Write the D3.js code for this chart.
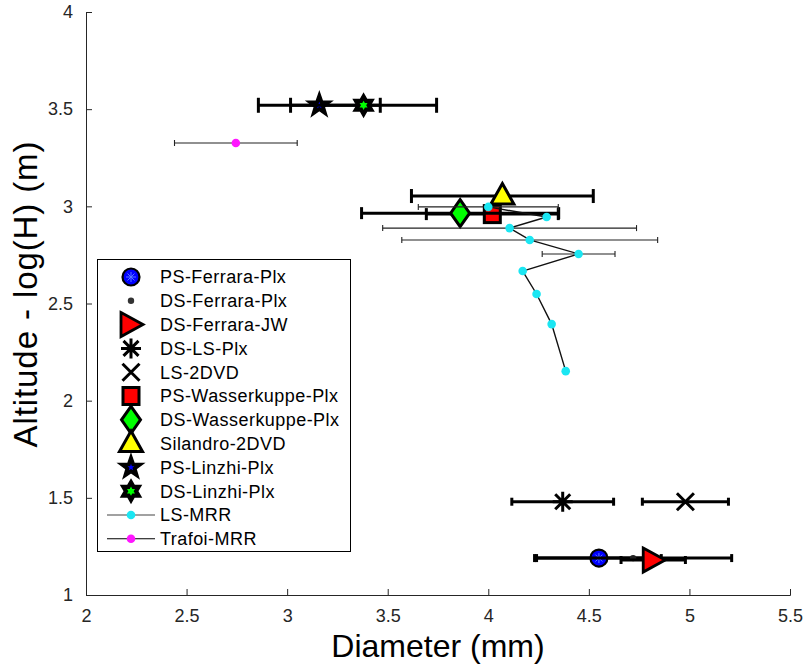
<!DOCTYPE html>
<html>
<head>
<meta charset="utf-8">
<script src="https://cdn.jsdelivr.net/npm/d3@7"></script>
<style>
  html, body { margin: 0; padding: 0; background: #fff; }
  svg { display: block; font-family: "Liberation Sans", Arial, Helvetica, sans-serif; }
</style>
</head>
<body>
<svg id="chart" width="808" height="665"></svg>
<script>
// ---------------- DATA ----------------
const legendNames = [
  "PS-Ferrara-Plx", "DS-Ferrara-Plx", "DS-Ferrara-JW", "DS-LS-Plx", "LS-2DVD",
  "PS-Wasserkuppe-Plx", "DS-Wasserkuppe-Plx", "Silandro-2DVD", "PS-Linzhi-Plx",
  "DS-Linzhi-Plx", "LS-MRR", "Trafoi-MRR"
];
// single-point series (first ten legend entries): diameter, altitude, diameter error
const stationDiameter = [4.55, 4.72, 4.82, 4.37, 4.98, 4.02, 3.86, 4.07, 3.16, 3.38];
const stationAltitude = [1.19, 1.19, 1.18, 1.48, 1.48, 2.96, 2.965, 3.053, 3.52, 3.52];
const stationError    = [0.31, 0.49, 0.16, 0.253, 0.214, 0.328, 0.49, 0.452, 0.303, 0.363];

// LS-MRR profile
const lsMrrDiameter = [4.00, 4.29, 4.106, 4.206, 4.449, 4.171, 4.24, 4.315, 4.385];
const lsMrrAltitude = [2.997, 2.945, 2.888, 2.827, 2.755, 2.667, 2.549, 2.394, 2.152];
const lsMrrError    = [0.348, 0, 0.631, 0.636, 0.181, 0, 0, 0, 0];

// Trafoi-MRR
const trafoiDiameter = [2.745];
const trafoiAltitude = [3.326];
const trafoiError    = [0.305];

const xTicks = [2, 2.5, 3, 3.5, 4, 4.5, 5, 5.5];
const yTicks = [1, 1.5, 2, 2.5, 3, 3.5, 4];
const xLabel = "Diameter (mm)";
const yLabel = "Altitude - log(H) (m)";

// ---------------- STYLES ----------------
const AX = "#262626";
const stationStyle = [
  { marker: "circle",    fill: "#0000ff", capH: 8,  lw: 3 },
  { marker: "dot",       fill: "#222222", capH: 8,  lw: 3 },
  { marker: "triRight",  fill: "#ff0000", capH: 8,  lw: 3 },
  { marker: "asterisk",  fill: "none",    capH: 8,  lw: 3 },
  { marker: "cross",     fill: "none",    capH: 8,  lw: 3 },
  { marker: "square",    fill: "#ff0000", capH: 12, lw: 3 },
  { marker: "diamond",   fill: "#00ff00", capH: 12, lw: 3 },
  { marker: "triUp",     fill: "#ffff00", capH: 14, lw: 3 },
  { marker: "pentagram", fill: "#0000ff", capH: 15, lw: 3 },
  { marker: "hexagram",  fill: "#00ff00", capH: 15, lw: 3 }
];

// ---------------- SCALES ----------------
const svg = d3.select("#chart");
const x = d3.scaleLinear().domain([2, 5.5]).range([86, 790]);
const y = d3.scaleLinear().domain([1, 4]).range([595, 12]);

// ---------------- AXES ----------------
const xAxis = d3.axisBottom(x).tickValues(xTicks).tickSize(-6).tickPadding(14)
  .tickFormat(d3.format("~g"));
const yAxis = d3.axisLeft(y).tickValues(yTicks).tickSize(-6).tickPadding(13)
  .tickFormat(d3.format("~g"));

const gx = svg.append("g").attr("transform", `translate(0,${y(1)})`).call(xAxis);
const gy = svg.append("g").attr("transform", `translate(${x(2)},0)`).call(yAxis);
[gx, gy].forEach(g => {
  g.select(".domain").attr("stroke", AX).attr("stroke-width", 1);
  g.selectAll(".tick line").attr("stroke", AX).attr("stroke-width", 1);
  g.selectAll(".tick text").attr("fill", AX).style("font-size", "18px")
    .style("font-family", "'Liberation Sans', Arial, sans-serif");
});

svg.append("text").attr("x", (x(2) + x(5.5)) / 2).attr("y", 657).attr("text-anchor", "middle")
  .attr("fill", "#000").style("font-size", "32px").text(xLabel);
svg.append("text").attr("transform", `translate(37,294) rotate(-90)`)
  .attr("text-anchor", "middle").attr("fill", "#000").style("font-size", "33px")
  .style("letter-spacing", "0.9px").text(yLabel);

// ---------------- MARKERS ----------------
function starPath(n, rOut, rIn) {
  const pts = [];
  for (let i = 0; i < 2 * n; i++) {
    const r = i % 2 === 0 ? rOut : rIn;
    const a = -Math.PI / 2 + i * Math.PI / n;
    pts.push([r * Math.cos(a), r * Math.sin(a)]);
  }
  return "M" + pts.map(p => p.join(",")).join("L") + "Z";
}

function drawMarker(g, type, cx, cy, fill) {
  const m = g.append("g").attr("transform", `translate(${cx},${cy})`);
  switch (type) {
    case "circle":
      m.append("circle").attr("r", 8.5).attr("fill", fill).attr("stroke", "#000").attr("stroke-width", 2.2);
      m.append("path").attr("d", "M-5,0L5,0M0,-5L0,5M-3.5,-3.5L3.5,3.5M-3.5,3.5L3.5,-3.5")
        .attr("stroke", "#5a78ff").attr("stroke-width", 1);
      break;
    case "dot":
      m.append("circle").attr("r", 3.2).attr("fill", fill);
      break;
    case "triRight":
      m.append("path").attr("d", "M-10,-12L12,0L-10,12Z").attr("fill", fill)
        .attr("stroke", "#000").attr("stroke-width", 2.8).attr("stroke-linejoin", "miter");
      break;
    case "asterisk":
      m.append("path").attr("d", "M-10,0L10,0M0,-10L0,10M-7.5,-7.5L7.5,7.5M-7.5,7.5L7.5,-7.5")
        .attr("stroke", "#000").attr("stroke-width", 3).attr("fill", "none");
      break;
    case "cross":
      m.append("path").attr("d", "M-8.5,-8.5L8.5,8.5M-8.5,8.5L8.5,-8.5")
        .attr("stroke", "#000").attr("stroke-width", 3).attr("fill", "none");
      break;
    case "square":
      m.append("rect").attr("x", -8).attr("y", -8.5).attr("width", 16).attr("height", 17)
        .attr("fill", fill).attr("stroke", "#000").attr("stroke-width", 3);
      break;
    case "diamond":
      m.append("path").attr("d", "M0,-13.5L9.5,0L0,13.5L-9.5,0Z").attr("fill", fill)
        .attr("stroke", "#000").attr("stroke-width", 3).attr("stroke-linejoin", "miter");
      break;
    case "triUp":
      m.append("path").attr("d", "M0,-12.5L11.5,8L-11.5,8Z").attr("fill", fill)
        .attr("stroke", "#000").attr("stroke-width", 3).attr("stroke-linejoin", "miter");
      break;
    case "pentagram":
      m.append("path").attr("d", starPath(5, 13, 5.2)).attr("fill", "#000")
        .attr("stroke", "#000").attr("stroke-width", 1.5);
      m.append("path").attr("d", starPath(5, 3.6, 1.5)).attr("fill", fill);
      break;
    case "hexagram":
      m.append("path").attr("d", starPath(6, 11.5, 6.6)).attr("fill", "#000")
        .attr("stroke", "#000").attr("stroke-width", 1.5);
      m.append("path").attr("d", starPath(6, 4.6, 2.6)).attr("fill", fill);
      break;
    case "cyan":
      m.append("circle").attr("r", 4.3).attr("fill", "#1be6f2");
      break;
    case "magenta":
      m.append("circle").attr("r", 4.3).attr("fill", "#ff16ff");
      break;
  }
}

function drawHBar(g, xv, yv, err, lw, capH, color) {
  if (!(err > 0)) return;
  const x0 = x(xv - err), x1 = x(xv + err), yy = y(yv);
  g.append("line").attr("x1", x0).attr("x2", x1).attr("y1", yy).attr("y2", yy)
    .attr("stroke", color).attr("stroke-width", lw);
  [x0, x1].forEach(xc => g.append("line").attr("x1", xc).attr("x2", xc)
    .attr("y1", yy - capH / 2).attr("y2", yy + capH / 2)
    .attr("stroke", color).attr("stroke-width", lw));
}

const plot = svg.append("g");

// single-point series in legend order
stationDiameter.forEach((d, i) => {
  const st = stationStyle[i];
  const g = plot.append("g");
  drawHBar(g, d, stationAltitude[i], stationError[i], st.lw, st.capH, "#000");
  drawMarker(g, st.marker, x(d), y(stationAltitude[i]), st.fill);
});

// LS-MRR profile
{
  const g = plot.append("g");
  const pts = lsMrrDiameter.map((d, i) => [d, lsMrrAltitude[i]]);
  g.append("path").attr("d", d3.line().x(p => x(p[0])).y(p => y(p[1]))(pts))
    .attr("fill", "none").attr("stroke", "#111").attr("stroke-width", 1.4);
  pts.forEach((p, i) => drawHBar(g, p[0], p[1], lsMrrError[i], 1.1, 6, "#222"));
  pts.forEach(p => drawMarker(g, "cyan", x(p[0]), y(p[1])));
}

// Trafoi-MRR
{
  const g = plot.append("g");
  trafoiDiameter.forEach((d, i) => {
    drawHBar(g, d, trafoiAltitude[i], trafoiError[i], 1.1, 6, "#222");
    drawMarker(g, "magenta", x(d), y(trafoiAltitude[i]));
  });
}

// ---------------- LEGEND ----------------
const lg = svg.append("g");
lg.append("rect").attr("x", 97.5).attr("y", 259.5).attr("width", 253).attr("height", 292)
  .attr("fill", "#fff").attr("stroke", "#000").attr("stroke-width", 1);
const rowY0 = 277, rowStep = 23.8, mx = 131;
legendNames.forEach((name, i) => {
  const ry = rowY0 + i * rowStep;
  if (i < stationStyle.length) {
    drawMarker(lg, stationStyle[i].marker, mx, ry, i === 1 ? "#333" : stationStyle[i].fill);
  } else {
    lg.append("line").attr("x1", 107).attr("x2", 155).attr("y1", ry).attr("y2", ry)
      .attr("stroke", i === 10 ? "#444" : "#000").attr("stroke-width", 1.1);
    drawMarker(lg, i === 10 ? "cyan" : "magenta", mx, ry);
  }
  lg.append("text").attr("x", 160).attr("y", ry).attr("dy", "0.36em")
    .attr("fill", "#000").style("font-size", "18px").style("letter-spacing", "0.45px").text(name);
});
</script>
</body>
</html>
